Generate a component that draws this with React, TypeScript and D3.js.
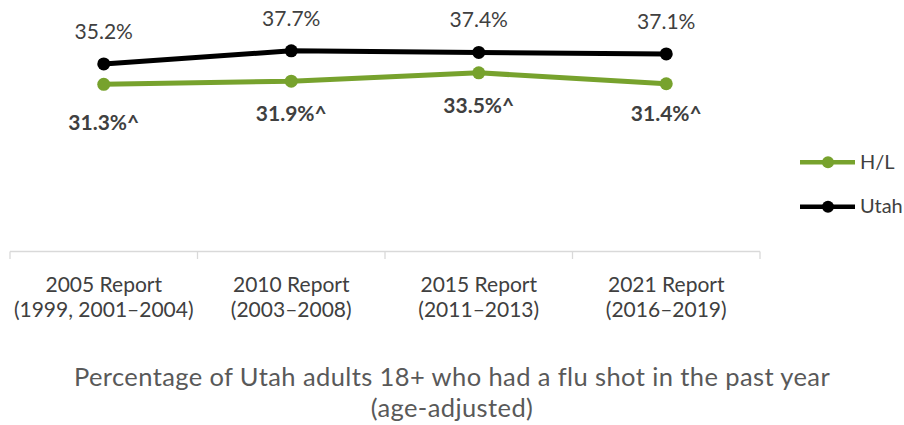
import React from "react";
import * as d3 from "d3";

const categories = ["2005 Report", "2010 Report", "2015 Report", "2021 Report"];
const subLabels = ["(1999, 2001–2004)", "(2003–2008)", "(2011–2013)", "(2016–2019)"];
const hlValues = [31.3, 31.9, 33.5, 31.4];
const utahValues = [35.2, 37.7, 37.4, 37.1];
const hlLabelDy = [46, 40, 40, 37];

const W = 904;
const H = 425;
const FONT = "Lato, 'Open Sans', sans-serif";
const GREEN = "#77a22d";
const TEXT = "#404040";

export default function App() {
  const x = d3.scaleBand<string>().domain(categories).range([10, 760]);
  const y = d3.scaleLinear().domain([0, 40]).range([248, 38.8]);
  const cx = (c: string) => (x(c) as number) + x.bandwidth() / 2;
  const line = d3
    .line<number>()
    .x((_, i) => cx(categories[i]))
    .y((d) => y(d));
  const ticks = [...categories.map((c) => x(c) as number), 760];
  const axisY = 251.5;

  return (
    <svg width={W} height={H} style={{ position: "absolute", left: 0, top: 0, background: "#fff" }} fontFamily={FONT}>
      <line x1={10} x2={760} y1={axisY} y2={axisY} stroke="#d9d9d9" strokeWidth={1.3} />
      {ticks.map((t, i) => (
        <line key={i} x1={t} x2={t} y1={axisY} y2={259} stroke="#d9d9d9" strokeWidth={1.3} />
      ))}
      {categories.map((c, i) => (
        <g key={c} fill={TEXT} fontSize={21} textAnchor="middle">
          <text x={cx(c)} y={291.5}>{c}</text>
          <text x={cx(c)} y={316.5}>{subLabels[i]}</text>
        </g>
      ))}
      <path d={line(utahValues) || ""} fill="none" stroke="#000" strokeWidth={5} />
      <path d={line(hlValues) || ""} fill="none" stroke={GREEN} strokeWidth={5} />
      {utahValues.map((v, i) => (
        <g key={"u" + i}>
          <circle cx={cx(categories[i])} cy={y(v)} r={6.5} fill="#000" />
          <text x={cx(categories[i])} y={y(v) - 25} fontSize={21} fill={TEXT} textAnchor="middle">{v.toFixed(1)}%</text>
        </g>
      ))}
      {hlValues.map((v, i) => (
        <g key={"h" + i}>
          <circle cx={cx(categories[i])} cy={y(v)} r={6.5} fill={GREEN} />
          <text x={cx(categories[i])} y={y(v) + hlLabelDy[i]} fontSize={21} fontWeight="bold" fill={TEXT} textAnchor="middle">{v.toFixed(1)}%^</text>
        </g>
      ))}
      <g>
        <line x1={800} x2={855} y1={162.3} y2={162.3} stroke={GREEN} strokeWidth={4.5} />
        <circle cx={828} cy={162.3} r={6} fill={GREEN} />
        <text x={860} y={168.5} fontSize={20} fill={TEXT}>H/L</text>
        <line x1={800} x2={855} y1={206.7} y2={206.7} stroke="#000" strokeWidth={4.5} />
        <circle cx={828} cy={206.7} r={6} fill="#000" />
        <text x={860} y={213} fontSize={20} fill={TEXT}>Utah</text>
      </g>
      <g fill="#595959" fontSize={25.5} letterSpacing={0.4} textAnchor="middle">
        <text x={452} y={386}>Percentage of Utah adults 18+ who had a flu shot in the past year</text>
        <text x={452} y={417}>(age-adjusted)</text>
      </g>
    </svg>
  );
}
